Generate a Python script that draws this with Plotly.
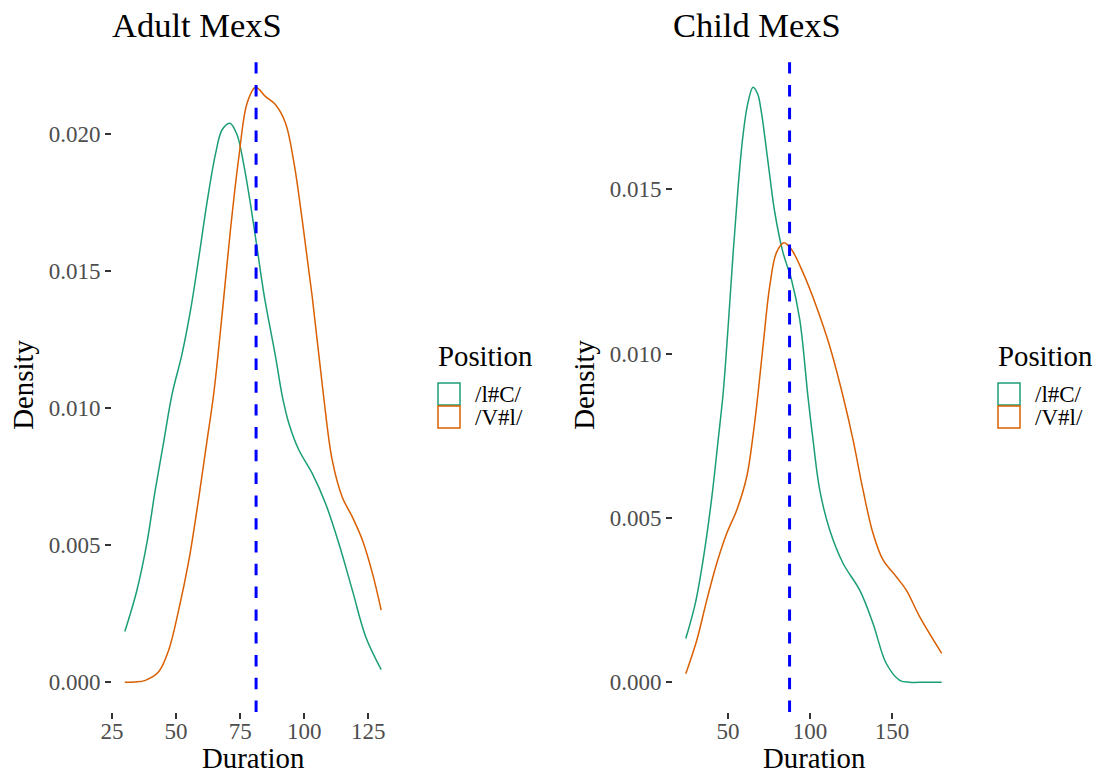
import plotly.graph_objects as go

# ---------------- data ----------------
series_labels = ["/l#C/", "/V#l/"]
panel_titles = ["Adult MexS", "Child MexS"]
legend_title = "Position"
x_title = "Duration"
y_title = "Density"

adult_lc_duration = [30, 34.6, 38.6, 41.8, 45.1, 48.4, 52.3, 55.6, 58.8, 62.1, 65.4, 68.0,
                     71.0, 73.8, 76.4, 79.1, 81.7, 84.3, 88.8, 91.5, 94.0, 97.9, 103.1,
                     108.3, 113.5, 118.75, 124.0, 130]
adult_lc_density = [0.00185, 0.00331, 0.00507, 0.00697, 0.00873, 0.01049, 0.01197, 0.01355,
                    0.01545, 0.01752, 0.01928, 0.02016, 0.02039, 0.01996, 0.01888, 0.01739,
                    0.01577, 0.01414, 0.01187, 0.0104, 0.00944, 0.00847, 0.00762, 0.00652,
                    0.00506, 0.00336, 0.00165, 0.00046]

adult_vl_duration = [30, 34, 38, 43.2, 47.1, 51.0, 55.0, 58.9, 62.1, 64.7, 68.0, 71.2, 74.5,
                     77.7, 81.0, 84.9, 88.8, 92.7, 96.0, 99.2, 103.1, 107.4, 110.9, 114.8,
                     118.75, 122.7, 126.6, 130]
adult_vl_density = [0.0, 0.00001, 0.00007, 0.00038, 0.00117, 0.00263, 0.00445, 0.00676,
                    0.00883, 0.01054, 0.01346, 0.0165, 0.01917, 0.02112, 0.0217, 0.02136,
                    0.02106, 0.02039, 0.01893, 0.01686, 0.01406, 0.01054, 0.0081, 0.00676,
                    0.00603, 0.00518, 0.00397, 0.00263]

child_lc_duration = [24.2, 30, 35, 40, 44, 47, 50, 53, 56, 59, 62, 65.2, 68, 70.3, 74.4,
                     78.5, 83.5, 88.6, 93.7, 98.8, 101.8, 105.9, 112.0, 120.1, 130.3, 138.4,
                     146.5, 154.7, 160.8, 170, 180.3]
child_lc_density = [0.00133, 0.0024, 0.0038, 0.0056, 0.0074, 0.0088, 0.0108, 0.0130, 0.0150,
                    0.0166, 0.0176, 0.0181, 0.0179, 0.01734, 0.01581, 0.01429, 0.01307,
                    0.01226, 0.01104, 0.00865, 0.00738, 0.00585, 0.00463, 0.00362, 0.0028,
                    0.00179, 0.00057, 0.00006, 0.0, 0.0, 0.0]

child_vl_duration = [24.2, 30.9, 37.0, 43.1, 49.2, 55.3, 61.4, 65.4, 68.3, 71.3, 75.4, 79.5,
                     84.1, 88.6, 95.7, 103.8, 112.0, 120.1, 126.2, 132.3, 138.4, 144.5,
                     152.6, 158.7, 166.9, 180.3]
child_vl_density = [0.00026, 0.00128, 0.0025, 0.00362, 0.00453, 0.00524, 0.00626, 0.00758,
                    0.0088, 0.01022, 0.01205, 0.01307, 0.01337, 0.01317, 0.01246, 0.01144,
                    0.01022, 0.0087, 0.00738, 0.00585, 0.00453, 0.00372, 0.00321, 0.0028,
                    0.00199, 0.00088]

adult_reference_duration = 81.2
child_reference_duration = 87.5

adult_x_ticks = [25, 50, 75, 100, 125]
adult_y_ticks = [0.0, 0.005, 0.010, 0.015, 0.020]
child_x_ticks = [50, 100, 150]
child_y_ticks = [0.0, 0.005, 0.010, 0.015]

# ---------------- style ----------------
GREEN = "#1B9E77"
ORANGE = "#D95F02"
FONT = "Liberation Serif"
W, H = 1096, 776


def expanded(lo, hi, frac=0.05):
    span = hi - lo
    return [lo - span * frac, hi + span * frac]


fig = go.Figure()

panels = [
    dict(xa="x", ya="y", lc=(adult_lc_duration, adult_lc_density),
         vl=(adult_vl_duration, adult_vl_density), ref=adult_reference_duration),
    dict(xa="x2", ya="y2", lc=(child_lc_duration, child_lc_density),
         vl=(child_vl_duration, child_vl_density), ref=child_reference_duration),
]

for p in panels:
    for (xs, ys), col, name in [(p["lc"], GREEN, series_labels[0]), (p["vl"], ORANGE, series_labels[1])]:
        fig.add_trace(go.Scatter(x=xs, y=ys, mode="lines", name=name, showlegend=False,
                                 line=dict(color=col, width=1.5, shape="spline", smoothing=1.0),
                                 xaxis=p["xa"], yaxis=p["ya"], hoverinfo="x+y"))
    fig.add_shape(type="line", xref=p["xa"], yref=p["ya"] + " domain",
                  x0=p["ref"], x1=p["ref"], y0=0, y1=1,
                  line=dict(color="#0000FF", width=3, dash="11.4px,11.4px"))

adult_xr = expanded(min(adult_lc_duration + adult_vl_duration), max(adult_lc_duration + adult_vl_duration))
adult_yr = expanded(0, max(adult_lc_density + adult_vl_density))
child_xr = expanded(min(child_lc_duration + child_vl_duration), max(child_lc_duration + child_vl_duration))
child_yr = expanded(0, max(child_lc_density + child_vl_density))

PANEL_TOP, PANEL_BOTTOM = 57.5, 712
ydom = [(H - PANEL_BOTTOM) / H, (H - PANEL_TOP) / H]
LEFT_PANEL = (112, 394)
RIGHT_PANEL = (673, 954.5)
dom_left = [LEFT_PANEL[0] / W, LEFT_PANEL[1] / W]
dom_right = [RIGHT_PANEL[0] / W, RIGHT_PANEL[1] / W]

axis_common = dict(showgrid=False, zeroline=False, showline=False, ticks="outside",
                   ticklen=6, tickwidth=2, tickcolor="#333333", automargin=False,
                   tickfont=dict(family=FONT, size=23, color="#4D4D4D"),
                   fixedrange=True)

fig.update_layout(
    width=W, height=H, margin=dict(l=0, r=0, t=0, b=0, autoexpand=False),
    paper_bgcolor="white", plot_bgcolor="white",
    font=dict(family=FONT, color="black"),
    showlegend=False,
    xaxis=dict(domain=dom_left, range=adult_xr, anchor="y", tickvals=adult_x_ticks,
               ticklabelstandoff=-8, **axis_common),
    yaxis=dict(domain=ydom, range=adult_yr, anchor="x", tickvals=adult_y_ticks, tickformat=".3f",
               **axis_common),
    xaxis2=dict(domain=dom_right, range=child_xr, anchor="y2", tickvals=child_x_ticks,
                ticklabelstandoff=-8, **axis_common),
    yaxis2=dict(domain=ydom, range=child_yr, anchor="x2", tickvals=child_y_ticks, tickformat=".3f",
                **axis_common),
)

title_font = dict(family=FONT, size=34.5, color="black")
axis_title_font = dict(family=FONT, size=28.8, color="black")
PAD = 2.5  # annotation inner padding compensation (px)

for title, (left, right), ylab_x in zip(panel_titles, [LEFT_PANEL, RIGHT_PANEL], [23, 584]):
    # panel title
    fig.add_annotation(text=title, xref="paper", yref="paper", x=(left - PAD) / W, y=(H - 25.5) / H,
                       xanchor="left", yanchor="middle", showarrow=False, font=title_font)
    # axis titles
    fig.add_annotation(text=x_title, xref="paper", yref="paper", x=(left + right) / 2 / W,
                       y=0, xanchor="center", yanchor="bottom", showarrow=False,
                       font=axis_title_font)
    fig.add_annotation(text=y_title, xref="paper", yref="paper", x=ylab_x / W,
                       y=(H - (PANEL_TOP + PANEL_BOTTOM) / 2) / H, xanchor="center",
                       yanchor="middle", textangle=-90, showarrow=False, font=axis_title_font)

# legends (one per panel, drawn as keys + text)
for left in [438, 998]:
    fig.add_annotation(text=legend_title, xref="paper", yref="paper", x=(left - PAD) / W,
                       y=(H - 356) / H, xanchor="left", yanchor="middle", showarrow=False,
                       font=axis_title_font)
    for i, (lab, col) in enumerate(zip(series_labels, [GREEN, ORANGE])):
        top = 383 + i * 23
        fig.add_shape(type="rect", xref="paper", yref="paper",
                      x0=left / W, x1=(left + 22) / W, y0=(H - top) / H, y1=(H - top - 22) / H,
                      line=dict(color=col, width=1.5), fillcolor="white")
        fig.add_annotation(text=lab, xref="paper", yref="paper", x=(left + 37 - PAD) / W,
                           y=(H - top - 11.5) / H, xanchor="left", yanchor="middle", showarrow=False,
                           font=dict(family=FONT, size=23, color="black"))

fig.write_html("out.html")
